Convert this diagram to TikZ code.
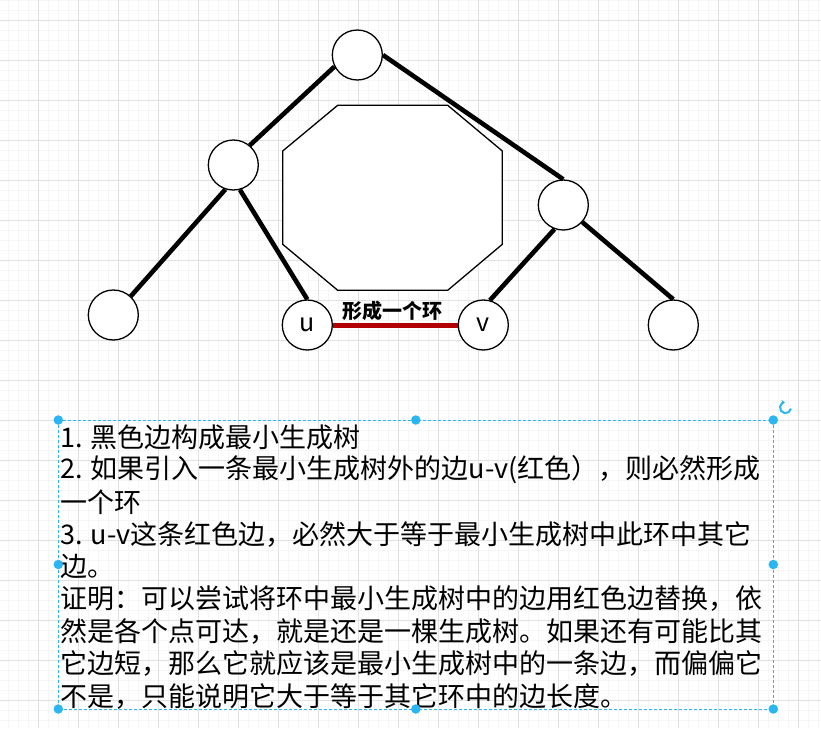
\documentclass[tikz,border=0pt]{standalone}
\usepackage{fontspec}
\setmainfont{Noto Sans CJK SC}
\usetikzlibrary{arrows.meta}
\definecolor{minorgrid}{RGB}{246,246,246}
\definecolor{majorgrid}{RGB}{225,225,225}
\definecolor{uvred}{RGB}{178,0,0}
\definecolor{selblue}{RGB}{41,182,242}
\begin{document}
\begin{tikzpicture}[x=1pt,y=-1pt,
  vtx/.style={circle, draw=black, line width=1.3pt, fill=white, minimum size=50pt, inner sep=0pt, font=\fontsize{25}{29}\selectfont},
  tedge/.style={line width=4.6pt, draw=black},
  redge/.style={line width=5pt, draw=uvred},
  bodyline/.style={anchor=west, inner sep=0pt, font=\fontsize{27}{32.4}\selectfont},
  handle/.style={circle, fill=selblue, inner sep=0pt, minimum size=9.5pt},
  selbox/.style={draw=selblue, line width=1pt, dash pattern=on 3pt off 2pt}]
\useasboundingbox (0,0) rectangle (821,728);
\fill[white] (0,0) rectangle (821,728);
% grid
\foreach \i in {0,...,81} \draw[minorgrid, line width=1pt] ({8.3+10*\i},0) -- ({8.3+10*\i},728);
\foreach \j in {0,...,72} \draw[minorgrid, line width=1pt] (0,{10*\j}) -- (821,{10*\j});
\foreach \i in {0,...,19} \draw[majorgrid, line width=1pt] ({38.3+40*\i},0) -- ({38.3+40*\i},728);
\foreach \j in {0,...,17} \draw[majorgrid, line width=1pt] (0,{20+40*\j}) -- (821,{20+40*\j});
% octagon
\draw[line width=1.3pt, fill=white] (337.7,105.3) -- (447.7,105.3) -- (502.3,151) -- (502.3,244.3) -- (447.7,290.3) -- (337.7,290.3) -- (282.7,244.3) -- (282.7,151) -- cycle;
% vertices
\node[vtx] (r) at (357.3,55) {};
\node[vtx] (lm) at (233.3,165) {};
\node[vtx] (rm) at (563.3,205) {};
\node[vtx] (ll) at (113.3,315) {};
\node[vtx] (u) at (307.3,325) {u};
\node[vtx] (v) at (483.3,325) {v};
\node[vtx] (rr) at (673.3,325) {};
% edges
\draw[tedge] (r.207) -- (lm.50);
\draw[tedge] (r.east) -- (rm.north);
\draw[tedge] (lm.252) -- (ll.47);
\draw[tedge] (lm.285) -- (u.north);
\draw[tedge] (rm.250) -- (v.75);
\draw[tedge] (rm.318) -- (rr.north);
\draw[redge] (u.east) -- (v.west);
\node[font=\bfseries\fontsize{20}{24}\selectfont, inner sep=0pt] (lab) at (392,310.7) {形成一个环};
% text
\node[bodyline] (t1) at (60,437.0) {1. 黑色边构成最小生成树};
\node[bodyline] (t2) at (60,469.4) {2. 如果引入一条最小生成树外的边u-v(红色），则必然形成};
\node[bodyline] (t3) at (60,501.8) {一个环};
\node[bodyline] (t4) at (60,534.2) {3. u-v这条红色边，必然大于等于最小生成树中此环中其它};
\node[bodyline] (t5) at (60,566.6) {边。};
\node[bodyline] (t6) at (60,599.0) {证明：可以尝试将环中最小生成树中的边用红色边替换，依};
\node[bodyline] (t7) at (60,631.4) {然是各个点可达，就是还是一棵生成树。如果还有可能比其};
\node[bodyline] (t8) at (60,663.8) {它边短，那么它就应该是最小生成树中的一条边，而偏偏它};
\node[bodyline] (t9) at (60,696.2) {不是，只能说明它大于等于其它环中的边长度。};
% selection
\draw[selbox] (58.3,420) rectangle (773.3,709);
\foreach \p in {(58.3,420),(415.8,420),(773.3,420),(58.3,564.5),(773.3,564.5),(58.3,709),(415.8,709),(773.3,709)}
  \node[handle] at \p {};
\draw[selblue, line width=2pt, -{Stealth[length=3.5pt,width=5pt]}] (785.5,407.7) ++(10:5.5) arc[start angle=10, delta angle=255, radius=5.5];
\end{tikzpicture}
\end{document}
